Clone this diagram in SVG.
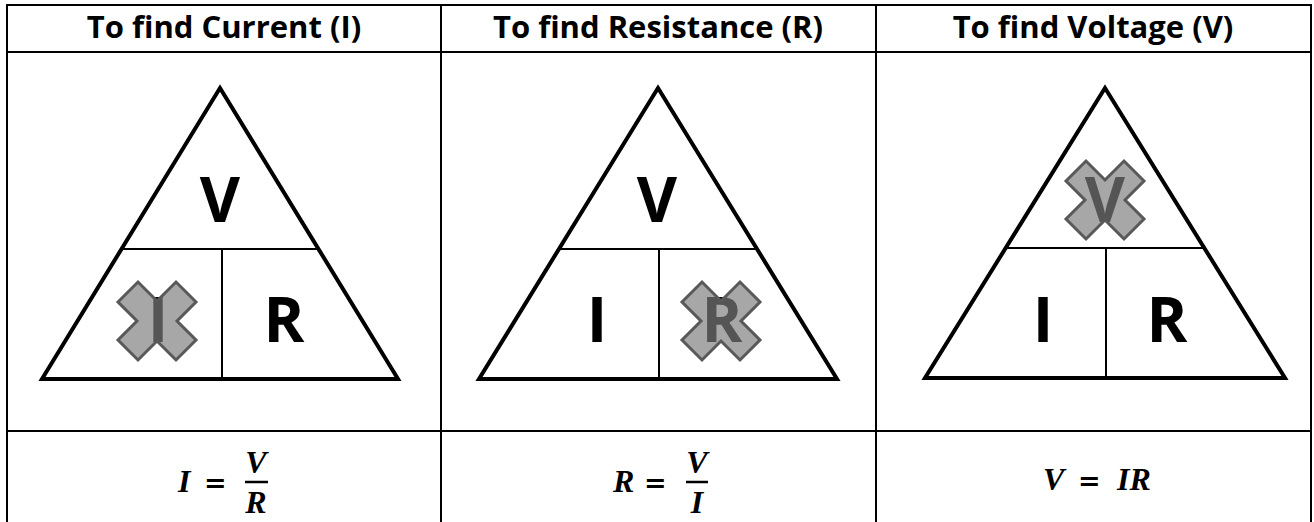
<svg xmlns="http://www.w3.org/2000/svg" width="1314" height="522" viewBox="0 0 1314 522">
<style>
.grid{stroke:#000;stroke-width:2;fill:none}
.head{font-family:"Open Sans","Liberation Sans",sans-serif;font-weight:bold;font-size:31px;text-anchor:middle;fill:#000}
.big{font-family:"Open Sans","Liberation Sans",sans-serif;font-weight:bold;font-size:62px;text-anchor:middle;fill:#000}
.tri{fill:none;stroke:#000;stroke-width:4;stroke-linejoin:miter}
.div{stroke:#000;stroke-width:2}
.cross{fill:#7d7d7d;fill-opacity:0.68;stroke:#595959;stroke-width:3;stroke-linejoin:miter}
.math{font-family:"Liberation Serif","DejaVu Serif",serif;font-weight:bold;font-style:italic;font-size:32px;fill:#000}
.eq{font-family:"DejaVu Serif","Liberation Serif",serif;font-weight:bold;font-size:27px;fill:#000}
</style>
<defs>
<polygon id="x" class="cross" points="0,-20 19,-39 39,-19 20,0 39,19 19,39 0,20 -19,39 -39,19 -20,0 -39,-19 -19,-39"/>
</defs>
<rect width="1314" height="522" fill="#fff"/>
<g id="table">
<rect class="grid" x="7" y="5" width="1304" height="530"/>
<line class="grid" x1="441" y1="5" x2="441" y2="522"/>
<line class="grid" x1="876" y1="5" x2="876" y2="522"/>
<line class="grid" x1="7" y1="52" x2="1311" y2="52"/>
<line class="grid" x1="7" y1="431" x2="1311" y2="431"/>
</g>
<g id="headers">
<text class="head" x="224" y="38">To find Current (I)</text>
<text class="head" x="658" y="38">To find Resistance (R)</text>
<text class="head" x="1093" y="38">To find Voltage (V)</text>
</g>
<g id="panel-current">
<polygon class="tri" points="220,88 398,379 42,379"/>
<line class="div" x1="121" y1="249" x2="319" y2="249"/>
<line class="div" x1="222" y1="249" x2="222" y2="379"/>
<text class="big" x="220" y="222">V</text>
<text class="big" x="158" y="342">I</text>
<text class="big" x="284" y="342">R</text>
<use href="#x" x="157" y="321"/>
</g>
<g id="panel-resistance">
<polygon class="tri" points="658,88 837,379 479,379"/>
<line class="div" x1="559" y1="249" x2="757" y2="249"/>
<line class="div" x1="659" y1="249" x2="659" y2="379"/>
<text class="big" x="657" y="222">V</text>
<text class="big" x="597" y="342">I</text>
<text class="big" x="722" y="342">R</text>
<use href="#x" x="721" y="321"/>
</g>
<g id="panel-voltage">
<polygon class="tri" points="1105,88 1285,378 925,378"/>
<line class="div" x1="1006" y1="248" x2="1204" y2="248"/>
<line class="div" x1="1106" y1="248" x2="1106" y2="378"/>
<text class="big" x="1105" y="222">V</text>
<text class="big" x="1043" y="342">I</text>
<text class="big" x="1167" y="342">R</text>
<use href="#x" x="1105" y="200"/>
</g>
<g id="formulas">
<text class="math" x="178" y="492">I</text>
<text class="eq" x="204" y="492">=</text>
<text class="math" x="256" y="473" text-anchor="middle">V</text>
<line x1="245" y1="482" x2="268" y2="482" stroke="#000" stroke-width="2.5"/>
<text class="math" x="256" y="513" text-anchor="middle">R</text>

<text class="math" x="613" y="492">R</text>
<text class="eq" x="644" y="492">=</text>
<text class="math" x="697" y="473" text-anchor="middle">V</text>
<line x1="686" y1="482" x2="708" y2="482" stroke="#000" stroke-width="2.5"/>
<text class="math" x="697" y="513" text-anchor="middle">I</text>

<text class="math" x="1043" y="490">V</text>
<text class="eq" x="1078" y="490">=</text>
<text class="math" x="1117" y="490">IR</text>
</g>
</svg>
